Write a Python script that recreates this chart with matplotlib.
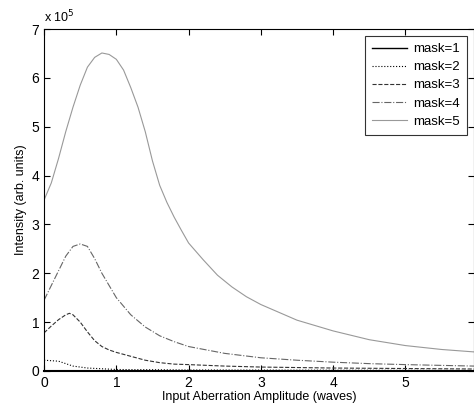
import numpy as np
import matplotlib
matplotlib.use('Agg')
import matplotlib.pyplot as plt

plt.rcParams['font.family'] = ['Liberation Sans', 'DejaVu Sans']
plt.rcParams['font.size'] = 9

# intensities in units of 1e5
x5 = [0, 0.1, 0.2, 0.3, 0.4, 0.5, 0.6, 0.7, 0.8, 0.9, 1.0, 1.1, 1.2, 1.3, 1.4, 1.5,
      1.6, 1.7, 1.8, 1.9, 2.0, 2.2, 2.4, 2.6, 2.8, 3.0, 3.5, 4.0, 4.5, 5.0, 5.5, 5.95]
m5 = [3.5, 3.85, 4.35, 4.9, 5.4, 5.85, 6.22, 6.42, 6.51, 6.48, 6.38, 6.16, 5.8, 5.4, 4.9, 4.3,
      3.8, 3.45, 3.15, 2.88, 2.62, 2.28, 1.96, 1.72, 1.52, 1.36, 1.04, 0.82, 0.64, 0.52, 0.44, 0.39]

x4 = [0, 0.1, 0.2, 0.3, 0.4, 0.5, 0.6, 0.7, 0.8, 0.9, 1.0, 1.2, 1.4, 1.6, 1.8, 2.0,
      2.5, 3.0, 3.5, 4.0, 4.5, 5.0, 5.95]
m4 = [1.45, 1.75, 2.05, 2.35, 2.55, 2.6, 2.55, 2.3, 2.0, 1.75, 1.5, 1.15, 0.9, 0.72, 0.6, 0.5,
      0.36, 0.27, 0.22, 0.18, 0.15, 0.13, 0.1]

x3 = [0, 0.1, 0.2, 0.3, 0.35, 0.4, 0.5, 0.6, 0.7, 0.8, 0.9, 1.0, 1.2, 1.4, 1.6, 1.8, 2.0,
      2.5, 3.0, 4.0, 5.0, 5.95]
m3 = [0.78, 0.92, 1.05, 1.15, 1.18, 1.15, 1.0, 0.8, 0.62, 0.5, 0.43, 0.38, 0.3, 0.22, 0.17, 0.14, 0.13,
      0.1, 0.08, 0.06, 0.05, 0.04]

x2 = [0, 0.2, 0.4, 0.6, 1.0, 2.0, 5.95]
m2 = [0.22, 0.2, 0.1, 0.06, 0.03, 0.02, 0.01]

x1 = [0, 1, 2, 3, 4, 5, 5.95]
m1 = [0.005, 0.005, 0.005, 0.005, 0.005, 0.005, 0.005]

fig = plt.figure(figsize=(4.74, 4.09), dpi=100)
ax = fig.add_axes([0.093, 0.093, 0.907, 0.836])

ax.plot(x1, m1, '-', color='black', lw=1.0, label='mask=1')
ax.plot(x2, m2, ':', color='black', lw=0.8, label='mask=2')
ax.plot(x3, m3, '--', color='#333333', lw=0.8, label='mask=3')
ax.plot(x4, m4, '-.', color='#666666', lw=0.8, label='mask=4')
ax.plot(x5, m5, '-', color='#999999', lw=0.8, label='mask=5')

ax.set_xlim(0, 5.95)
ax.set_ylim(0, 7)
ax.set_xticks([0, 1, 2, 3, 4, 5])
ax.set_yticks([0, 1, 2, 3, 4, 5, 6, 7])
ax.tick_params(direction='in', top=True, right=True, length=4, labelsize=10)
for s in ax.spines.values():
    s.set_linewidth(0.8)
ax.spines['bottom'].set_linewidth(1.5)

ax.text(0.0, 1.01, r'x 10$^5$', transform=ax.transAxes, fontsize=9, va='bottom', ha='left')
ax.set_xlabel('Input Aberration Amplitude (waves)', fontsize=9, labelpad=1)
ax.set_ylabel('Intensity (arb. units)', fontsize=9, labelpad=3)

leg = ax.legend(loc='upper right', fancybox=False, edgecolor='black', fontsize=9.5,
                handlelength=2.6, handletextpad=0.5, borderaxespad=0.5,
                labelspacing=0.45, borderpad=0.55)
leg.get_frame().set_linewidth(0.8)

fig.savefig('out.png', dpi=100)
